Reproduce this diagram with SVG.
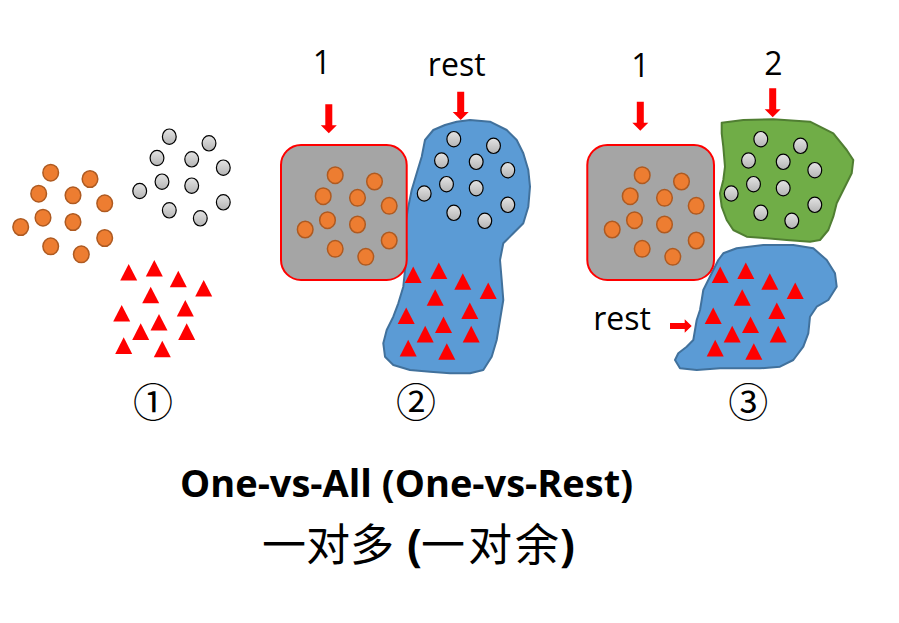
<svg xmlns="http://www.w3.org/2000/svg" width="899" height="623" viewBox="0 0 899 623">
<style>
.or{fill:#ED7D31;stroke:#AE5A21;stroke-width:1.5}
.gr{fill:url(#gg);stroke:#000;stroke-width:1.2}
.tri{fill:#FF0000}
.box{fill:#A5A5A5;stroke:#FF0000;stroke-width:2}
.blue{fill:#5B9BD5;stroke:#41719C;stroke-width:2;stroke-linejoin:round}
.green{fill:#70AD47;stroke:#507E32;stroke-width:2;stroke-linejoin:round}
.arr{fill:#FF0000}
.lbl{font-family:"Open Sans","Liberation Sans",sans-serif;font-size:32px;fill:#000}
.num{font-family:"Noto Sans CJK SC","DejaVu Sans",serif;font-size:40px;fill:#000;text-anchor:middle}
.title{font-family:"Open Sans","Liberation Sans",sans-serif;font-weight:bold;font-size:38px;fill:#000}
.cn{font-family:"Noto Sans CJK SC",sans-serif;font-size:44px;fill:#000}
.par{font-family:"Open Sans","Liberation Sans",sans-serif;font-weight:bold}
</style>
<defs>
<linearGradient id="gg" x1="0" y1="0" x2="0" y2="1">
<stop offset="0" stop-color="#e4e4e4"/><stop offset="1" stop-color="#b4b4b4"/>
</linearGradient>
<path id="t" d="M0,0 L8.5,16.6 L-8.5,16.6 Z"/>
<g id="orangeSet">
<ellipse class="or" cx="50.7" cy="172.7" rx="7.8" ry="8.3"/>
<ellipse class="or" cx="90" cy="179" rx="7.8" ry="8.3"/>
<ellipse class="or" cx="38.7" cy="193.7" rx="7.8" ry="8.3"/>
<ellipse class="or" cx="73" cy="195.3" rx="7.8" ry="8.3"/>
<ellipse class="or" cx="104.7" cy="203.3" rx="7.8" ry="8.3"/>
<ellipse class="or" cx="43" cy="217.7" rx="7.8" ry="8.3"/>
<ellipse class="or" cx="73" cy="222" rx="7.8" ry="8.3"/>
<ellipse class="or" cx="20.7" cy="227" rx="7.8" ry="8.3"/>
<ellipse class="or" cx="50.7" cy="246.3" rx="7.8" ry="8.3"/>
<ellipse class="or" cx="104.7" cy="238" rx="7.8" ry="8.3"/>
<ellipse class="or" cx="81.3" cy="254.3" rx="7.8" ry="8.3"/>
</g>
<g id="graySet">
<ellipse class="gr" cx="169.3" cy="136.7" rx="6.9" ry="7.7"/>
<ellipse class="gr" cx="209" cy="143.3" rx="6.9" ry="7.7"/>
<ellipse class="gr" cx="157" cy="158" rx="6.9" ry="7.7"/>
<ellipse class="gr" cx="191.7" cy="159.3" rx="6.9" ry="7.7"/>
<ellipse class="gr" cx="223.3" cy="167.7" rx="6.9" ry="7.7"/>
<ellipse class="gr" cx="162" cy="181.7" rx="6.9" ry="7.7"/>
<ellipse class="gr" cx="191.7" cy="185.7" rx="6.9" ry="7.7"/>
<ellipse class="gr" cx="139.7" cy="191" rx="6.9" ry="7.7"/>
<ellipse class="gr" cx="169.3" cy="210.3" rx="6.9" ry="7.7"/>
<ellipse class="gr" cx="223.3" cy="202.3" rx="6.9" ry="7.7"/>
<ellipse class="gr" cx="200.3" cy="218.3" rx="6.9" ry="7.7"/>
</g>
<g id="triSet" class="tri">
<use href="#t" x="128.7" y="264"/>
<use href="#t" x="154.3" y="260"/>
<use href="#t" x="178.3" y="270.7"/>
<use href="#t" x="203.7" y="280"/>
<use href="#t" x="150.7" y="286.7"/>
<use href="#t" x="121.7" y="305"/>
<use href="#t" x="185.3" y="300"/>
<use href="#t" x="159" y="314"/>
<use href="#t" x="140.7" y="323.3"/>
<use href="#t" x="186.7" y="323.3"/>
<use href="#t" x="123.7" y="337.3"/>
<use href="#t" x="162.3" y="340.7"/>
</g>
</defs>
<rect width="899" height="623" fill="#fff"/>

<g id="panel1">
<use href="#orangeSet"/>
<use href="#graySet"/>
<use href="#triSet"/>
<text class="num" x="153" y="417">①</text>
</g>

<g id="panel2">
<path class="blue" d="M456.7,121.7 L470,120 L490,121.7 L506.7,130 L516.7,140 L523.3,153.3 L528.3,170 L530,186.7 L528.3,206.7 L523.3,223.3 L513.3,233.3 L503.3,243.3 L500,260 L501.7,280 L503.3,300 L500,320 L496.7,340 L491.7,356.7 L483.3,370 L470,373.3 L450,373.3 L430,371.7 L410,370 L393.3,365 L385,356.7 L383.3,343.3 L386.7,330 L393.3,316.7 L398.3,303.3 L403.3,286.7 L405,270 L406.7,253.3 L405,240 L405,226.7 L408.3,206.7 L411.7,190 L416.7,173.3 L421.7,156.7 L425,140 L433.3,130 L445,125 Z"/>
<rect class="box" x="281" y="145" width="125.7" height="135" rx="20"/>
<g transform="translate(284.5,2.5)">
<use href="#orangeSet"/>
<use href="#graySet"/>
<use href="#triSet"/>
</g>
<text class="lbl" x="322" y="74.3" text-anchor="middle">1</text>
<text class="lbl" x="456.7" y="76" text-anchor="middle">rest</text>
<text class="num" x="416" y="417">②</text>
</g>

<g id="panel3">
<path class="green" d="M721.7,122.7 L743.3,120 L773.3,119.3 L810,121.7 L833.3,133.3 L846.7,150 L853.3,160 L851.7,173.3 L843.3,190 L836.7,203.3 L833.3,216.7 L828.3,230 L820,240 L810,241.7 L786.7,240 L766.7,238.3 L746.7,236.7 L733.3,230 L726.7,220 L721.7,206.7 L720,193.3 L723.3,180 L725,166.7 L723.3,146.7 L721.7,133.3 Z"/>
<path class="blue" d="M723.3,253.3 L736.7,248.3 L763.3,245 L793.3,245 L813.3,248.3 L826.7,260 L835,273.3 L836.7,286.7 L828.3,300 L816.7,306.7 L810,316.7 L808.3,333.3 L803.3,346.7 L793.3,360 L780,366.7 L760,368.3 L740,368.3 L720,368.3 L696.7,370 L680,368.3 L675,360 L678.3,353.3 L686.7,346.7 L693.3,340 L695,330 L696.7,320 L700,310 L701.7,300 L703.3,290 L708.3,280 L713.3,270 L718.3,260 Z"/>
<rect class="box" x="587.3" y="145" width="126.7" height="135" rx="20"/>
<g transform="translate(591.5,2.5)">
<use href="#orangeSet"/>
<use href="#graySet"/>
<use href="#triSet"/>
</g>
<text class="lbl" x="640.3" y="76.7" text-anchor="middle">1</text>
<text class="lbl" x="773.3" y="75" text-anchor="middle">2</text>
<text class="lbl" x="622" y="330" text-anchor="middle">rest</text>
<text class="num" x="748.3" y="417">③</text>
</g>

<g id="connectors">
<polygon class="arr" points="325.3,104.3 332.3,104.3 332.3,125.3 336.8,125.3 328.8,133.3 320.8,125.3 325.3,125.3"/>
<polygon class="arr" points="457.2,91.7 464.2,91.7 464.2,112 468.7,112 460.7,120 452.7,112 457.2,112"/>
<polygon class="arr" points="636.8,101.7 643.8,101.7 643.8,122.7 648.3,122.7 640.3,130.7 632.3,122.7 636.8,122.7"/>
<polygon class="arr" points="769.2,88.3 776.2,88.3 776.2,109.3 780.7,109.3 772.7,117.3 764.7,109.3 769.2,109.3"/>
<polygon class="arr" points="670,323 684.7,323 684.7,319.3 691.7,326 684.7,332.7 684.7,329 670,329"/>
</g>

<g id="captions">
<text class="title" x="180" y="497" textLength="453" lengthAdjust="spacingAndGlyphs">One-vs-All (One-vs-Rest)</text>
<text class="cn" y="561"><tspan x="262">一对多</tspan><tspan class="par" x="394"> </tspan><tspan class="par" x="407">(</tspan><tspan x="421" letter-spacing="3">一对</tspan><tspan x="515">余</tspan><tspan class="par" x="560">)</tspan></text>
</g>
</svg>
